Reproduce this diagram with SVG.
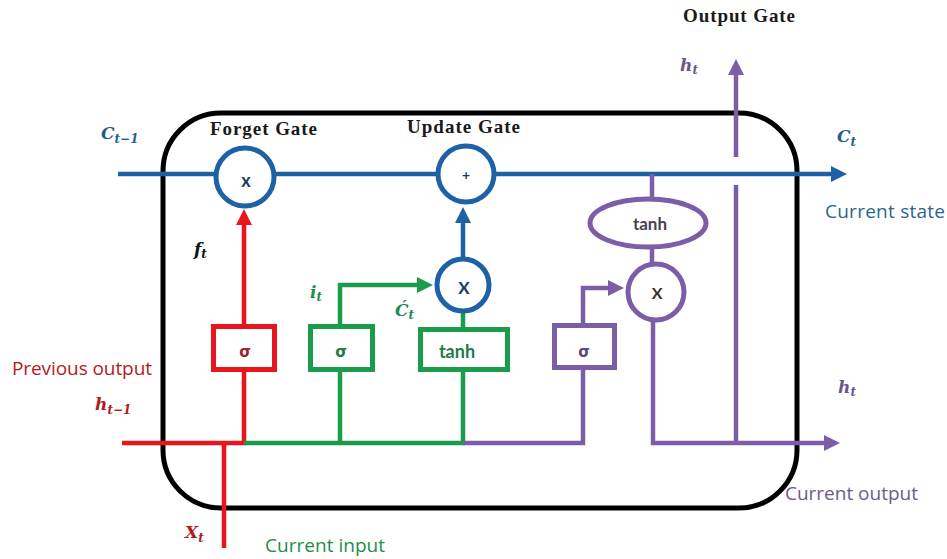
<svg xmlns="http://www.w3.org/2000/svg" width="947" height="559" viewBox="0 0 947 559">
<style>
.frame{fill:none;stroke:#000;stroke-width:5}
.ln{fill:none;stroke-width:4.5;stroke-linejoin:miter;stroke-linecap:butt}
.blue{stroke:#1e62a6}
.red{stroke:#e8151c}
.green{stroke:#1b9c4c}
.purple{stroke:#7b5ea8}
.node{fill:#fff;stroke-width:5}
.gate{font-family:"Liberation Serif",serif;font-weight:bold;font-size:19px;fill:#1a1a1a}
.lbl{font-family:"Open Sans","Liberation Sans",sans-serif;font-size:19px}
.math{font-family:"DejaVu Serif","Liberation Serif",serif;font-style:italic;font-weight:bold;font-size:17px}
.sub{font-size:12px}
.op{font-family:Lato,"Liberation Sans",sans-serif;font-weight:bold;text-anchor:middle}
.sig{font-family:"DejaVu Sans",sans-serif;font-weight:bold;font-size:15px;text-anchor:middle}
</style>
<defs>
<marker id="ah-blue" viewBox="0 0 16 16" refX="2" refY="8" markerWidth="16" markerHeight="16" markerUnits="userSpaceOnUse" orient="auto"><path d="M0,0 L16,8 L0,16 z" fill="#1e62a6"/></marker>
<marker id="ah-red" viewBox="0 0 16 16" refX="2" refY="8" markerWidth="16" markerHeight="16" markerUnits="userSpaceOnUse" orient="auto"><path d="M0,0 L16,8 L0,16 z" fill="#e8151c"/></marker>
<marker id="ah-green" viewBox="0 0 16 16" refX="2" refY="8" markerWidth="16" markerHeight="16" markerUnits="userSpaceOnUse" orient="auto"><path d="M0,0 L16,8 L0,16 z" fill="#1b9c4c"/></marker>
<marker id="ah-purple" viewBox="0 0 16 16" refX="2" refY="8" markerWidth="16" markerHeight="16" markerUnits="userSpaceOnUse" orient="auto"><path d="M0,0 L16,8 L0,16 z" fill="#7b5ea8"/></marker>
</defs>
<rect width="947" height="559" fill="#fff"/>

<g id="cell-frame">
<rect class="frame" x="163" y="113" width="634" height="395" rx="58" ry="58"/>
</g>

<g id="connectors">
<path class="ln blue" d="M118,174 L833,174" marker-end="url(#ah-blue)"/>
<path class="ln blue" d="M463,258 L463,221" marker-end="url(#ah-blue)"/>
<path class="ln red" d="M122,443 L246,443"/>
<path class="ln red" d="M224,443 L224,548"/>
<path class="ln red" d="M244,443 L244,372"/>
<path class="ln red" d="M244,324 L244,223" marker-end="url(#ah-red)"/>
<path class="ln green" d="M244,443 L465,443"/>
<path class="ln green" d="M340,443 L340,372"/>
<path class="ln green" d="M340,326 L340,285 L419,285" marker-end="url(#ah-green)"/>
<path class="ln green" d="M463,443 L463,372"/>
<path class="ln green" d="M463,329 L463,311"/>
<path class="ln purple" d="M463,443 L583,443 L583,370"/>
<path class="ln purple" d="M583,325 L583,288 L610,288" marker-end="url(#ah-purple)"/>
<path class="ln purple" d="M652,174 L652,198"/>
<path class="ln purple" d="M652,248 L652,263"/>
<path class="ln purple" d="M653,322 L653,443 L826,443" marker-end="url(#ah-purple)"/>
<path class="ln purple" d="M736,443 L736,185"/>
<path class="ln purple" d="M736,157 L736,73" marker-end="url(#ah-purple)"/>
</g>

<g id="forget-mult">
<circle class="node blue" cx="245" cy="177" r="29"/>
<text class="op" x="246" y="187" font-size="18" fill="#1c3b60">x</text>
</g>
<g id="update-plus">
<circle class="node blue" cx="466" cy="174" r="28"/>
<text class="op" x="466" y="180" font-size="14" fill="#1c3b60">+</text>
</g>
<g id="update-mult">
<circle class="node blue" cx="463" cy="285" r="26"/>
<text class="op" x="464" y="294" font-size="17" fill="#1c3b60">X</text>
</g>
<g id="forget-sigma">
<rect class="node red" x="213.5" y="326.5" width="61" height="43"/>
<text class="sig" x="245" y="357" fill="#a31d2a">σ</text>
</g>
<g id="input-sigma">
<rect class="node green" x="310.5" y="326.5" width="62" height="43"/>
<text class="sig" x="341" y="357" fill="#1f7a4a">σ</text>
</g>
<g id="input-tanh">
<rect class="node green" x="420.5" y="329.5" width="87" height="40"/>
<text class="op" x="457" y="358" font-size="18" fill="#1f7a4a">tanh</text>
</g>
<g id="output-sigma">
<rect class="node purple" x="554.5" y="325.5" width="60" height="42"/>
<text class="sig" x="584" y="357" fill="#5b4a70">σ</text>
</g>
<g id="output-tanh">
<ellipse class="node purple" cx="648" cy="223" rx="58" ry="24"/>
<text class="op" x="650" y="230" font-size="17" fill="#4a4050">tanh</text>
</g>
<g id="output-mult">
<circle class="node purple" cx="656" cy="292" r="28"/>
<text class="op" x="657" y="299" font-size="16" font-weight="normal" fill="#333">X</text>
</g>

<g id="labels">
<text class="gate" x="683" y="22" textLength="112">Output Gate</text>
<text class="gate" x="210" y="135" textLength="107">Forget Gate</text>
<text class="gate" x="407" y="133" textLength="113">Update Gate</text>

<text class="math" x="101" y="139" fill="#1f5f8e">C<tspan class="sub" dy="4">t−1</tspan></text>
<text class="math" x="837" y="142" fill="#1f5f8e">C<tspan class="sub" dy="4">t</tspan></text>
<text class="lbl" x="825" y="218" fill="#2a6690" textLength="120">Current state</text>

<text class="math" x="680" y="71" fill="#6a5590">h<tspan class="sub" dy="3">t</tspan></text>
<text class="math" x="838" y="393" fill="#6a5590">h<tspan class="sub" dy="3">t</tspan></text>
<text class="lbl" x="785" y="500" fill="#6e5a93" textLength="133">Current output</text>

<text class="math" x="194" y="255" fill="#111">f<tspan class="sub" dy="3">t</tspan></text>
<text class="math" x="310" y="298" fill="#1f8c4c">i<tspan class="sub" dy="3">t</tspan></text>
<text class="math" x="395" y="316" fill="#1f8c4c">Ć<tspan class="sub" dy="3">t</tspan></text>

<text class="lbl" x="12" y="375" fill="#b01c22" textLength="140">Previous output</text>
<text class="math" x="95" y="410" fill="#b01c22">h<tspan class="sub" dy="4">t−1</tspan></text>
<text class="math" x="185" y="538" fill="#b01c22">X<tspan class="sub" dy="4">t</tspan></text>
<text class="lbl" x="265" y="552" fill="#1f8c4c" textLength="120">Current input</text>
</g>
</svg>
